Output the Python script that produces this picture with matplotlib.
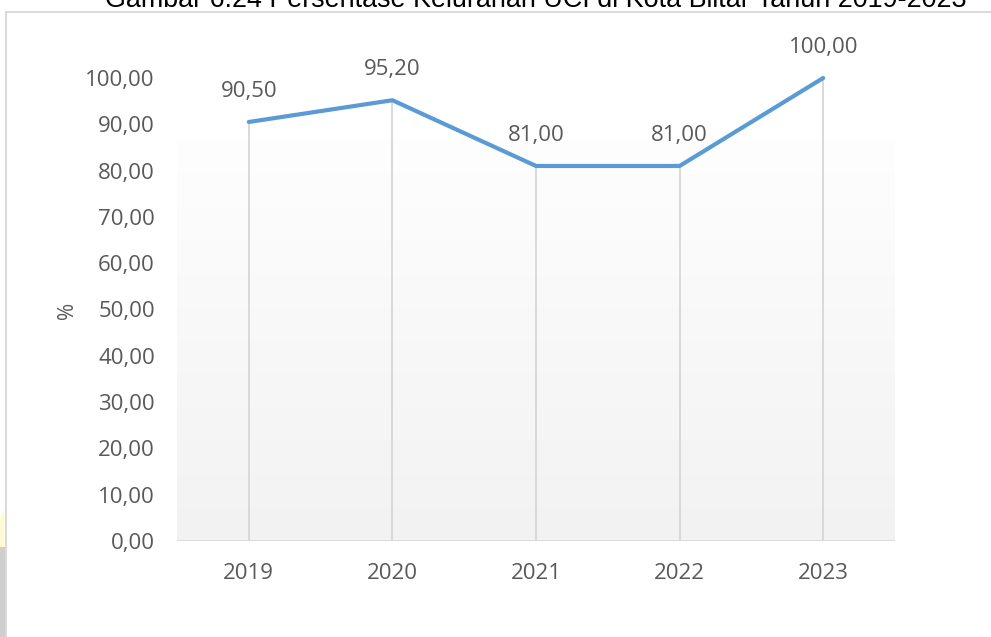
"""Persentase Kelurahan UCI di Kota Blitar, 2019-2023 (line chart)."""

import matplotlib

matplotlib.use("Agg")

import matplotlib.pyplot as plt
import numpy as np
from matplotlib.colors import LinearSegmentedColormap
from matplotlib.patches import Polygon, Rectangle

years = ["2019", "2020", "2021", "2022", "2023"]
persen = [90.50, 95.20, 81.00, 81.00, 100.00]
y_ticks = [0, 10, 20, 30, 40, 50, 60, 70, 80, 90, 100]

TITLE = "Gambar 6.24 Persentase Kelurahan UCI di Kota Blitar Tahun 2019-2023"
LINE_COLOR = "#5b9bd5"
TEXT_COLOR = "#595959"
GRID_COLOR = "#d9d9d9"

W, H, DPI = 991, 637, 100


def fmt_id(v: float) -> str:
    # Indonesian decimal comma
    return f"{v:.2f}".replace(".", ",")


def px_box(left, top, right, bottom):
    """Pixel box (from top-left) -> figure fraction [l, b, w, h]."""
    return [left / W, 1 - bottom / H, (right - left) / W, (bottom - top) / H]


plt.rcParams["font.family"] = ["Open Sans", "DejaVu Sans"]

fig = plt.figure(figsize=(W / DPI, H / DPI), dpi=DPI)
fig.patch.set_facecolor("white")

# outer chart frame (runs off the right and bottom edges)
fig.add_artist(plt.Line2D([6 / W, 6 / W], [0, 1 - 12 / H], color=GRID_COLOR, lw=1.4,
                          transform=fig.transFigure))
fig.add_artist(plt.Line2D([6 / W, 1], [1 - 12 / H, 1 - 12 / H], color=GRID_COLOR, lw=1.4,
                          transform=fig.transFigure))

# scanned-page remnants at the left margin
fig.add_artist(Rectangle((0, 0), 4.5 / W, 1 - 547 / H, color="#cfcfcf", lw=0,
                         transform=fig.transFigure))
fig.add_artist(Polygon([(0, 1 - 520 / H), (4.5 / W, 1 - 508 / H), (4.5 / W, 1 - 547 / H), (0, 1 - 547 / H)],
                       closed=True, color="#fefbd2", lw=0, transform=fig.transFigure))

ax = fig.add_axes(px_box(177, 78, 895, 541))
ax.set_xlim(-0.5, len(years) - 0.5)
ax.set_ylim(0, 100)
ax.patch.set_alpha(0)

# plot area fill: soft vertical gradient
grad_top = 86.6
cmap = LinearSegmentedColormap.from_list("pa", ["#f2f2f2", "#fefefe"])
ax.imshow(np.linspace(0, 1, 256).reshape(-1, 1), cmap=cmap, origin="lower", aspect="auto",
          extent=(-0.5, len(years) - 0.5, 0, grad_top), zorder=0)

x = np.arange(len(years))

# drop lines and baseline
ax.vlines(x, 0, persen, colors=GRID_COLOR, lw=1.4, zorder=1)
ax.axhline(0, color=GRID_COLOR, lw=2.0, zorder=1)

ax.plot(x, persen, color=LINE_COLOR, lw=3.0, solid_capstyle="round",
        solid_joinstyle="round", zorder=3, clip_on=False)

for xi, v in zip(x, persen):
    ax.annotate(fmt_id(v), (xi, v), xytext=(0, 22), textcoords="offset points",
                ha="center", va="center", fontsize=16, color=TEXT_COLOR,
                annotation_clip=False)

ax.set_xticks(x)
ax.set_xticklabels(years)
ax.set_yticks(y_ticks)
ax.set_yticklabels([fmt_id(t) for t in y_ticks])
ax.tick_params(axis="both", length=0, labelsize=16, labelcolor=TEXT_COLOR)
ax.tick_params(axis="y", pad=16)
ax.tick_params(axis="x", pad=16)
for spine in ax.spines.values():
    spine.set_visible(False)

fig.text(67 / W, 1 - 310 / H, "%", rotation=90, ha="center", va="center",
         fontsize=15, color=TEXT_COLOR)

fig.text(536 / W, 1 - 7 / H, TITLE, ha="center", va="baseline", fontsize=19.4,
         color="black", family=["Liberation Sans", "DejaVu Sans"])

fig.savefig("out.png", dpi=DPI)
